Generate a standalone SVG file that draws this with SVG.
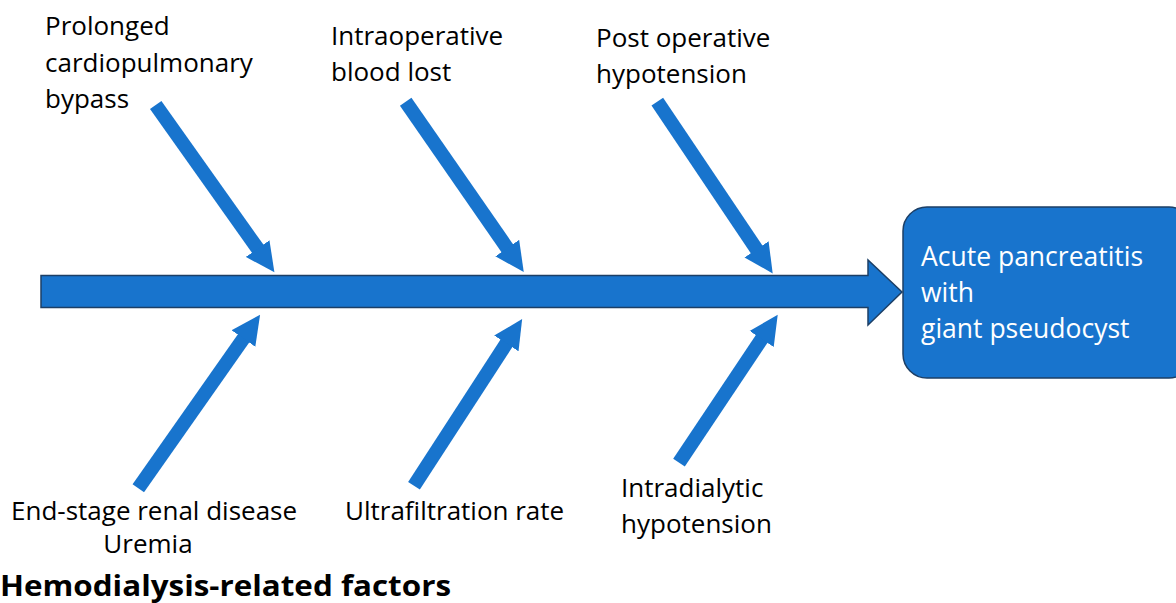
<svg xmlns="http://www.w3.org/2000/svg" width="1176" height="603" viewBox="0 0 1176 603">
<style>
  .lbl { font-family: "Open Sans", "Noto Sans", sans-serif; font-size: 26px; fill: #000; }
  .box-t { font-family: "Open Sans", "Noto Sans", sans-serif; font-size: 26.5px; fill: #fff; }
  .title { font-family: "Open Sans", "Noto Sans", sans-serif; font-size: 29px; font-weight: bold; fill: #000; }
  .bone { stroke: #1874CD; stroke-width: 14; stroke-linecap: butt; fill: none; marker-end: url(#head); }
</style>
<defs>
  <marker id="head" markerUnits="userSpaceOnUse" viewBox="0 -15 30 30" refX="1" refY="0" markerWidth="30" markerHeight="30" orient="auto">
    <path d="M0,-14.5 L29,0 L0,14.5 Z" fill="#1874CD"/>
  </marker>
</defs>
<rect width="1176" height="603" fill="#fff"/>
<g id="connectors">
  <path id="spine" d="M41,275.5 L868,275.5 L868,260 L902,292 L868,325 L868,307.5 L41,307.5 Z" fill="#1874CD" stroke="#1C3F66" stroke-width="1.5"/>
  <line class="bone" x1="155.7" y1="105" x2="258.2" y2="249.4"/>
  <line class="bone" x1="405.7" y1="101.7" x2="507.8" y2="248.9"/>
  <line class="bone" x1="657.3" y1="101.7" x2="757.1" y2="250.2"/>
  <line class="bone" x1="138.3" y1="488.3" x2="244" y2="337.7"/>
  <line class="bone" x1="414" y1="485.7" x2="506.9" y2="342.6"/>
  <line class="bone" x1="679" y1="462.7" x2="762.2" y2="338.1"/>
</g>
<g id="outcome">
  <rect x="903" y="207" width="290" height="171" rx="24" ry="24" fill="#1874CD" stroke="#1C3F66" stroke-width="1.5"/>
  <text class="box-t" x="921" y="266">Acute pancreatitis</text>
  <text class="box-t" x="921" y="302">with</text>
  <text class="box-t" x="921" y="338">giant pseudocyst</text>
</g>
<g id="cause-bypass">
  <text class="lbl" x="45" y="35">Prolonged</text>
  <text class="lbl" x="45" y="72">cardiopulmonary</text>
  <text class="lbl" x="45" y="108">bypass</text>
</g>
<g id="cause-bloodloss">
  <text class="lbl" x="331" y="45">Intraoperative</text>
  <text class="lbl" x="331" y="81">blood lost</text>
</g>
<g id="cause-postop">
  <text class="lbl" x="596" y="47">Post operative</text>
  <text class="lbl" x="596" y="83">hypotension</text>
</g>
<g id="cause-esrd">
  <text class="lbl" x="11" y="520">End-stage renal disease</text>
  <text class="lbl" x="148" y="553" text-anchor="middle">Uremia</text>
</g>
<g id="cause-uf">
  <text class="lbl" x="345" y="520">Ultrafiltration rate</text>
</g>
<g id="cause-idh">
  <text class="lbl" x="621" y="497">Intradialytic</text>
  <text class="lbl" x="621" y="533">hypotension</text>
</g>
<g id="group-title">
  <text class="title" x="0" y="596" textLength="451" lengthAdjust="spacingAndGlyphs">Hemodialysis-related factors</text>
</g>
</svg>
